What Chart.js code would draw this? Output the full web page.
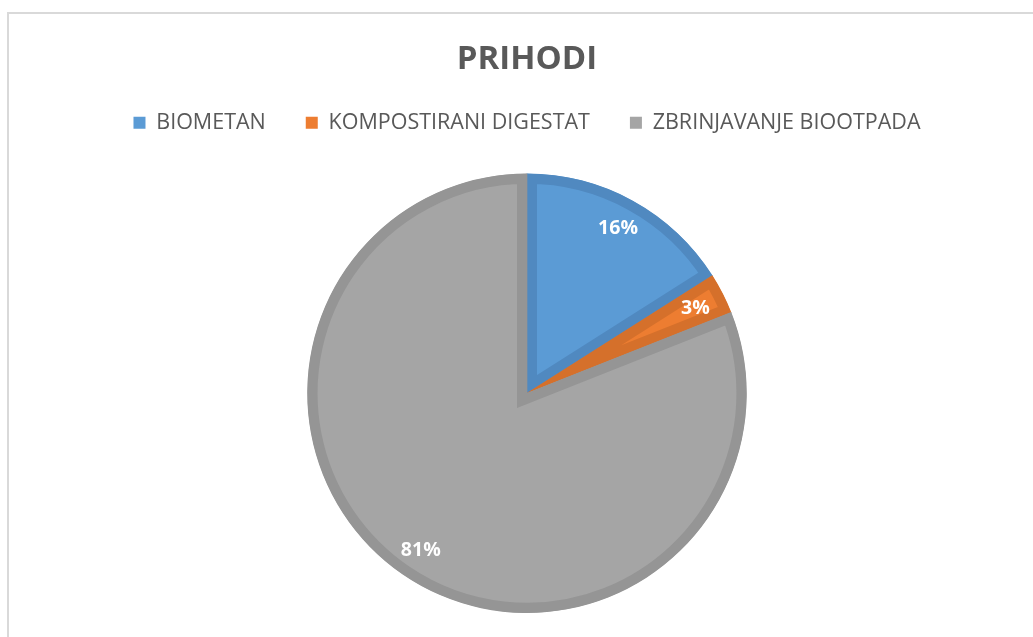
<!DOCTYPE html>
<html>
<head>
<meta charset="utf-8">
<script src="https://cdn.jsdelivr.net/npm/chart.js@4"></script>
<style>
  html, body { margin:0; padding:0; background:#fff; overflow:hidden; width:1033px; height:637px; }
  #frame { position:absolute; left:7px; top:12px; width:1100px; height:700px; border:2px solid #d9d9d9; box-sizing:border-box; }
  #wrap { position:absolute; left:0; top:0; width:1054px; height:637px; }
</style>
</head>
<body>
<div id="frame"></div>
<div id="wrap"><canvas id="chartPie"></canvas></div>
<script>
// podaci
const categories = ['BIOMETAN', 'KOMPOSTIRANI DIGESTAT', 'ZBRINJAVANJE BIOOTPADA'];
const values = [16, 3, 81];
const fillColors = ['#5b9bd5', '#ed7d31', '#a5a5a5'];
const edgeColors = ['#5089c0', '#d5702b', '#959595'];

// postotci unutar kriški
const pctLabels = {
  id: 'pctLabels',
  afterDatasetsDraw(chart){
    const ctx = chart.ctx;
    const meta = chart.getDatasetMeta(0);
    const data = chart.data.datasets[0].data;
    const total = data.reduce((a, b) => a + b, 0);
    ctx.save();
    ctx.fillStyle = '#ffffff';
    ctx.font = 'bold 19.5px "Open Sans"';
    ctx.textAlign = 'center';
    ctx.textBaseline = 'middle';
    meta.data.forEach(function(arc, i){
      const p = arc.getProps(['x','y','startAngle','endAngle','outerRadius'], true);
      const mid = (p.startAngle + p.endAngle) / 2;
      const r = p.outerRadius * 0.86;
      ctx.fillText(Math.round(data[i] / total * 100) + '%', p.x + Math.cos(mid) * r, p.y + Math.sin(mid) * r + 1);
    });
    ctx.restore();
  }
};

// razmak ispod legende
const legendGap = {
  id: 'legendGap',
  beforeInit(chart){
    const fit = chart.legend.fit;
    chart.legend.fit = function(){
      fit.call(this);
      this.height += 30;
    };
  }
};

const pie = document.getElementById('chartPie').getContext('2d');
new Chart(pie, {
  type: 'pie',
  data: {
    labels: categories,
    datasets: [{
      data: values,
      backgroundColor: fillColors,
      borderColor: edgeColors,
      borderWidth: 10,
      borderAlign: 'inner',
      borderJoinStyle: 'miter',
      offset: 0,
      hoverOffset: 0
    }]
  },
  options: {
    responsive: true,
    maintainAspectRatio: false,
    animation: false,
    events: [],
    layout: { padding: { top: 0, bottom: 24, left: 0, right: 0 } },
    plugins: {
      title: {
        display: true,
        text: 'PRIHODI',
        color: '#595959',
        font: { family: '"Open Sans"', size: 33, weight: 'bold', lineHeight: 1 },
        padding: { top: 43, bottom: -4 }
      },
      legend: {
        position: 'top',
        labels: {
          color: '#595959',
          font: { family: '"Open Sans"', size: 21.5 },
          boxWidth: 12,
          boxHeight: 12,
          padding: 40,
          generateLabels(chart){
            const items = Chart.overrides.pie.plugins.legend.labels.generateLabels(chart);
            items.forEach(function(it){ it.lineWidth = 0; it.strokeStyle = it.fillStyle; });
            return items;
          }
        }
      },
      tooltip: { enabled: false }
    }
  },
  plugins: [pctLabels, legendGap]
});
</script>
</body>
</html>
